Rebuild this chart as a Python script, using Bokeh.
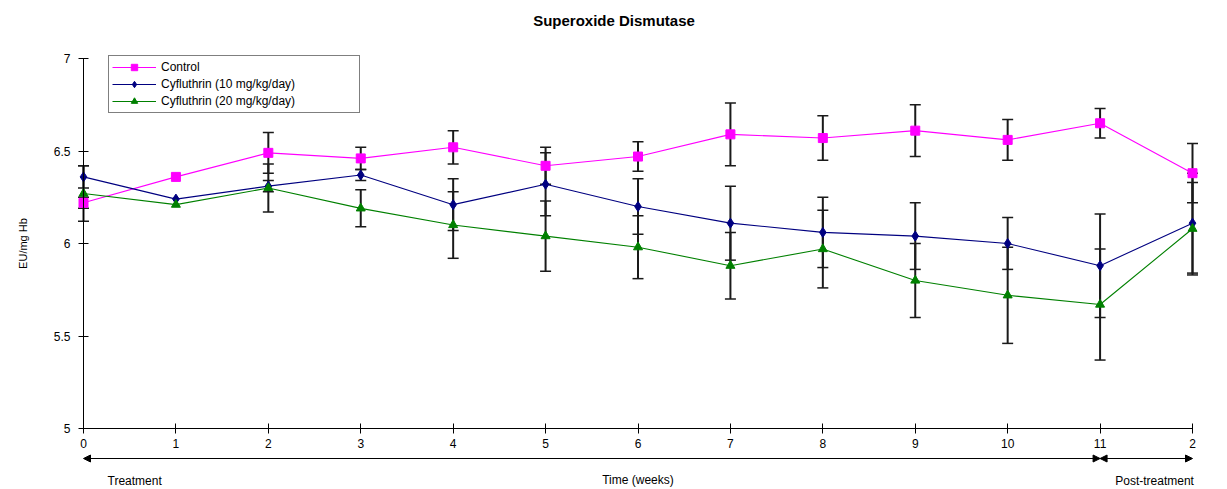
from bokeh.plotting import figure
from bokeh.models import (ColumnDataSource, Whisker, TeeHead, FixedTicker, Arrow,
                          NormalHead, Label, Range1d)
from bokeh.embed import file_html
from bokeh.resources import INLINE

# ---------------- data ----------------
weeks = [0, 1, 2, 3, 4, 5, 6, 7, 8, 9, 10, 11, 12]
week_labels = ["0", "1", "2", "3", "4", "5", "6", "7", "8", "9", "10", "11", "2"]

control = [6.22, 6.36, 6.49, 6.46, 6.52, 6.42, 6.47, 6.59, 6.57, 6.61, 6.56, 6.65, 6.38]
control_err = [0.03, 0.0, 0.11, 0.06, 0.09, 0.10, 0.08, 0.17, 0.12, 0.14, 0.11, 0.08, 0.16]

cyf10 = [6.36, 6.24, 6.31, 6.37, 6.21, 6.32, 6.20, 6.11, 6.06, 6.04, 6.00, 5.88, 6.11]
cyf10_err = [0.06, 0.0, 0.03, 0.03, 0.14, 0.17, 0.15, 0.20, 0.19, 0.18, 0.14, 0.28, 0.27]

cyf20 = [6.27, 6.21, 6.30, 6.19, 6.10, 6.04, 5.98, 5.88, 5.97, 5.80, 5.72, 5.67, 6.08]
cyf20_err = [0.15, 0.0, 0.13, 0.10, 0.18, 0.19, 0.17, 0.18, 0.21, 0.20, 0.26, 0.30, 0.25]

y_ticks = [5, 5.5, 6, 6.5, 7]
y_tick_labels = ["5", "5.5", "6", "6.5", "7"]

series = [
    ("Control", control, control_err, "#FF00FF", "square", 9),
    ("Cyfluthrin (10 mg/kg/day)", cyf10, cyf10_err, "#000080", "diamond", 10),
    ("Cyfluthrin (20 mg/kg/day)", cyf20, cyf20_err, "#008000", "triangle", 9),
]

FONT = "Liberation Sans"

W, H = 1227, 489
TOP = 36                    # height of the title band
X0_PX, X12_PX = 83, 1192    # where week 0 and the last week sit
Y7_PX, Y5_PX = 58, 428      # where 7 and 5 sit
sx = (X12_PX - X0_PX) / (weeks[-1] - weeks[0])
sy = (Y5_PX - Y7_PX) / (y_ticks[-1] - y_ticks[0])
x_range = Range1d(weeks[0] - X0_PX / sx, weeks[-1] + (W - X12_PX) / sx)
y_range = Range1d(y_ticks[0] - (H - Y5_PX) / sy, y_ticks[-1] + (Y7_PX - TOP) / sy)

p = figure(width=W, height=H, output_backend="svg", toolbar_location=None,
           x_range=x_range, y_range=y_range,
           min_border_left=0, min_border_right=0, min_border_top=TOP,
           min_border_bottom=0, title="Superoxide Dismutase")

p.title.align = "center"
p.title.text_font = FONT
p.title.text_font_size = "15px"
p.title.text_font_style = "bold"
p.title.text_color = "black"
p.title.standoff = 15

p.outline_line_color = None
p.xgrid.visible = False
p.ygrid.visible = False

# axes
xa = p.xaxis[0]
xa.fixed_location = y_ticks[0]
xa.ticker = FixedTicker(ticks=weeks)
xa.major_label_overrides = {w: l for w, l in zip(weeks, week_labels)}
xa.bounds = (weeks[0], weeks[-1])
xa.minor_tick_line_color = None
xa.major_tick_in = 5
xa.major_tick_out = 5
xa.major_label_standoff = 5
xa.major_label_text_font = FONT
xa.major_label_text_font_size = "12px"
xa.major_label_text_color = "black"
xa.axis_line_color = "black"
xa.major_tick_line_color = "black"
xa.axis_label = "Time (weeks)"
xa.axis_label_text_font = FONT
xa.axis_label_text_font_size = "12px"
xa.axis_label_text_font_style = "normal"
xa.axis_label_text_color = "black"
xa.axis_label_standoff = 22

ya = p.yaxis[0]
ya.fixed_location = weeks[0]
ya.ticker = FixedTicker(ticks=y_ticks)
ya.major_label_overrides = {t: l for t, l in zip(y_ticks, y_tick_labels)}
ya.bounds = (y_ticks[0], y_ticks[-1])
ya.minor_tick_line_color = None
ya.major_tick_in = 5
ya.major_tick_out = 5
ya.major_label_standoff = 8
ya.major_label_text_font = FONT
ya.major_label_text_font_size = "12px"
ya.major_label_text_color = "black"
ya.axis_line_color = "black"
ya.major_tick_line_color = "black"
ya.axis_label = "EU/mg Hb"
ya.axis_label_text_font = FONT
ya.axis_label_text_font_size = "11px"
ya.axis_label_text_font_style = "normal"
ya.axis_label_text_color = "black"
ya.axis_label_standoff = 22

# error bars (under the lines/markers)
for name, vals, errs, color, marker, size in series:
    xs = [w for w, e in zip(weeks, errs) if e > 0]
    up = [v + e for v, e in zip(vals, errs) if e > 0]
    lo = [v - e for v, e in zip(vals, errs) if e > 0]
    src = ColumnDataSource(dict(x=xs, upper=up, lower=lo))
    wk = Whisker(source=src, base="x", upper="upper", lower="lower",
                 line_color="#1a1a1a", line_width=2, level="underlay",
                 upper_head=TeeHead(size=11, line_color="#1a1a1a", line_width=1.5),
                 lower_head=TeeHead(size=11, line_color="#1a1a1a", line_width=1.5))
    p.add_layout(wk)

for name, vals, errs, color, marker, size in series:
    src = ColumnDataSource(dict(x=weeks, y=vals))
    p.line("x", "y", source=src, line_color=color, line_width=1.1, legend_label=name)
    p.scatter("x", "y", source=src, marker=marker, size=size, fill_color=color,
              line_color=color, legend_label=name)

# legend
lg = p.legend[0]
lg.margin = 0
lg.location = (108, H - 57 - 56)
lg.padding = 3
lg.spacing = 1
lg.label_height = 16
lg.glyph_height = 16
lg.glyph_width = 44
lg.label_width = 195
lg.label_standoff = 5
lg.label_text_font = FONT
lg.label_text_font_size = "12px"
lg.label_text_color = "black"
lg.border_line_color = "black"
lg.border_line_width = 1
lg.background_fill_alpha = 1

# phase arrows below the axis
arrow_y = y_ticks[0] - 30 / sy
for a, b in [(weeks[0], weeks[11]), (weeks[11], weeks[12])]:
    p.add_layout(Arrow(x_start=a, x_end=b, y_start=arrow_y, y_end=arrow_y,
                       line_color="black", line_width=1,
                       start=NormalHead(size=7, line_color="black", fill_color="black"),
                       end=NormalHead(size=7, line_color="black", fill_color="black")))

p.add_layout(Label(x=0.26, y=y_ticks[0], y_offset=-52, text="Treatment", text_font=FONT,
                   text_font_size="12px", text_baseline="middle", text_align="left",
                   text_color="black"))
p.add_layout(Label(x=11.59, y=y_ticks[0], y_offset=-52, text="Post-treatment", text_font=FONT,
                   text_font_size="12px", text_baseline="middle", text_align="center",
                   text_color="black"))

open("out.html", "w").write(file_html(p, INLINE))
